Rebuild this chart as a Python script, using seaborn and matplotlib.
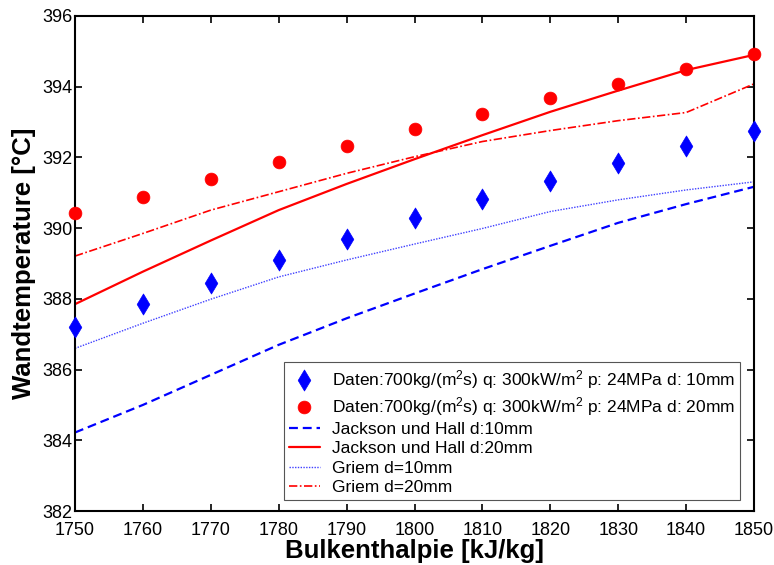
import matplotlib
matplotlib.use("Agg")
import matplotlib.pyplot as plt
import seaborn as sns

# Bulk enthalpy grid [kJ/kg]
enthalpie = [1750, 1760, 1770, 1780, 1790, 1800, 1810, 1820, 1830, 1840, 1850]

# Measured wall temperatures [°C]
daten_d10 = [387.19, 387.85, 388.46, 389.10, 389.70, 390.28, 390.82, 391.34, 391.84, 392.32, 392.76]
daten_d20 = [390.43, 390.88, 391.39, 391.87, 392.32, 392.80, 393.23, 393.67, 394.08, 394.51, 394.92]

# Correlations
jackson_d10 = [384.22, 385.00, 385.85, 386.70, 387.45, 388.15, 388.84, 389.50, 390.15, 390.68, 391.17]
jackson_d20 = [387.85, 388.77, 389.65, 390.51, 391.25, 391.95, 392.63, 393.29, 393.89, 394.47, 394.90]
griem_d10 = [386.60, 387.31, 387.99, 388.62, 389.10, 389.55, 389.99, 390.47, 390.80, 391.08, 391.31]
griem_d20 = [389.21, 389.85, 390.51, 391.03, 391.55, 392.02, 392.45, 392.76, 393.04, 393.27, 394.08]

x_ticks = [1750, 1760, 1770, 1780, 1790, 1800, 1810, 1820, 1830, 1840, 1850]
y_ticks = [382, 384, 386, 388, 390, 392, 394, 396]

lbl_d10 = r"Daten:700kg/(m$^2$s) q: 300kW/m$^2$ p: 24MPa d: 10mm"
lbl_d20 = r"Daten:700kg/(m$^2$s) q: 300kW/m$^2$ p: 24MPa d: 20mm"

sns.set_style("ticks")
plt.rcParams["font.family"] = ["Liberation Sans", "DejaVu Sans"]
plt.rcParams["mathtext.default"] = "regular"
plt.rcParams["xtick.direction"] = "in"
plt.rcParams["ytick.direction"] = "in"
plt.rcParams["text.color"] = "black"
plt.rcParams["axes.labelcolor"] = "black"

fig = plt.figure(figsize=(7.74, 5.65), dpi=100)
ax = fig.add_axes([75 / 774, 54 / 565, 679 / 774, 495 / 565])

sns.lineplot(x=enthalpie, y=jackson_d10, ax=ax, color="#0000ff", lw=1.6,
             linestyle=(0, (4, 2.2)), label="Jackson und Hall d:10mm")
sns.lineplot(x=enthalpie, y=jackson_d20, ax=ax, color="#ff0000", lw=1.6,
             linestyle="-", label="Jackson und Hall d:20mm")
sns.lineplot(x=enthalpie, y=griem_d10, ax=ax, color="#4040ff", lw=1.0,
             linestyle=(0, (1, 1)), label="Griem d=10mm")
sns.lineplot(x=enthalpie, y=griem_d20, ax=ax, color="#ff0000", lw=1.2,
             linestyle=(0, (5, 1.5, 1, 1.5)), label="Griem d=20mm")
sns.scatterplot(x=enthalpie, y=daten_d10, ax=ax, marker="d", s=115,
                color="#0000ff", edgecolor="#0000ff", linewidth=0.5,
                label=lbl_d10, zorder=5, clip_on=False)
sns.scatterplot(x=enthalpie, y=daten_d20, ax=ax, marker="o", s=85,
                color="#ff0000", edgecolor="#ff0000", linewidth=0.5,
                label=lbl_d20, zorder=5, clip_on=False)

ax.set_xlim(1750, 1850)
ax.set_ylim(382, 396)
ax.set_xticks(x_ticks)
ax.set_yticks(y_ticks)
ax.tick_params(axis="both", which="both", top=True, right=True, length=5,
               width=1.2, labelsize=13, colors="black")
ax.tick_params(axis="x", pad=8)
ax.tick_params(axis="y", pad=2)
for s in ax.spines.values():
    s.set_linewidth(1.5)
    s.set_color("black")

ax.set_xlabel("Bulkenthalpie [kJ/kg]", fontsize=18.5, fontweight="bold", labelpad=0)
ax.set_ylabel("Wandtemperature [°C]", fontsize=18.5, fontweight="bold", labelpad=4)

handles, labels = ax.get_legend_handles_labels()
order = [lbl_d10, lbl_d20, "Jackson und Hall d:10mm", "Jackson und Hall d:20mm",
         "Griem d=10mm", "Griem d=20mm"]
hmap = dict(zip(labels, handles))
leg = ax.legend([hmap[k] for k in order], order, loc="lower right",
                bbox_to_anchor=(0.979, 0.022), fontsize=12.5, frameon=True,
                fancybox=False, edgecolor="#555555", framealpha=1,
                borderpad=0.3, labelspacing=0.24, handlelength=1.75,
                handletextpad=0.7, borderaxespad=0)
leg.get_frame().set_linewidth(0.8)

fig.savefig("out.png", dpi=100)
